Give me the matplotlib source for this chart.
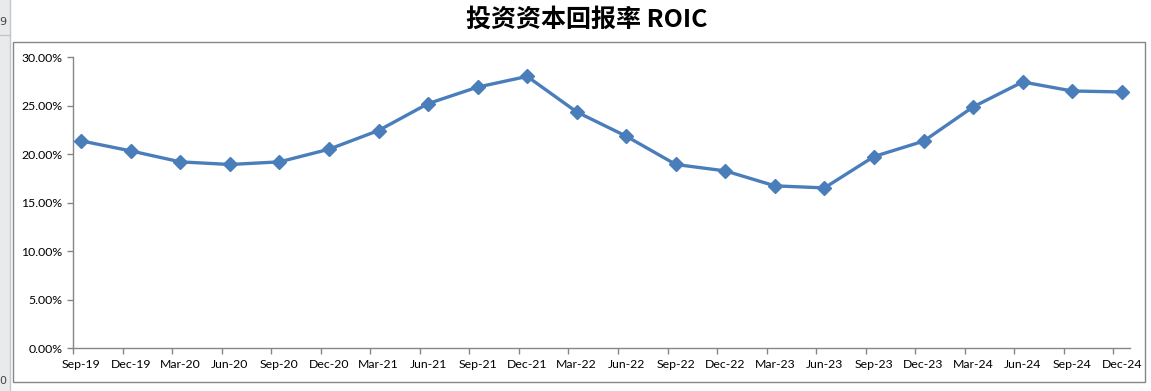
import matplotlib
matplotlib.use("Agg")
import matplotlib.pyplot as plt
from matplotlib.patches import Rectangle
from matplotlib.lines import Line2D
from matplotlib.ticker import FuncFormatter, FixedLocator

plt.rcParams['font.family'] = ['Lato', 'Noto Sans CJK SC', 'DejaVu Sans']

title = "投资资本回报率 ROIC"
quarters = ["Sep-19", "Dec-19", "Mar-20", "Jun-20", "Sep-20", "Dec-20",
            "Mar-21", "Jun-21", "Sep-21", "Dec-21", "Mar-22", "Jun-22",
            "Sep-22", "Dec-22", "Mar-23", "Jun-23", "Sep-23", "Dec-23",
            "Mar-24", "Jun-24", "Sep-24", "Dec-24"]
roic = [0.2136, 0.2033, 0.1920, 0.1893, 0.1920, 0.2050,
        0.2243, 0.2520, 0.2690, 0.2800, 0.2434, 0.2184,
        0.1893, 0.1827, 0.1673, 0.1652, 0.1975, 0.2133,
        0.2486, 0.2743, 0.2650, 0.2640]
yticks = [0.0, 0.05, 0.10, 0.15, 0.20, 0.25, 0.30]

W, H = 1151, 391
fig = plt.figure(figsize=(W / 100, H / 100), dpi=100)
fig.patch.set_facecolor("white")

# Excel row-header strip on the far left
fig.patches.append(Rectangle((0, 0), 10 / W, 1, transform=fig.transFigure,
                             facecolor="#E9EAEC", edgecolor="none", zorder=0))
fig.lines.append(Line2D([10 / W, 10 / W], [0, 1], transform=fig.transFigure,
                        color="#C6C6C6", lw=1))
fig.lines.append(Line2D([0, 10 / W], [1 - 35 / H, 1 - 35 / H], transform=fig.transFigure,
                        color="#C6C6C6", lw=1))
fig.text(-1 / W, 1 - 22 / H, "9", fontsize=8, color="#444444", ha="left", va="center",
         family=["DejaVu Sans"])
fig.text(-1 / W, 1 - 381 / H, "0", fontsize=8, color="#444444", ha="left", va="center",
         family=["DejaVu Sans"])

# chart area border
fig.patches.append(Rectangle((13 / W, 1 - 382 / H), (1145 - 13) / W, (382 - 42) / H,
                             transform=fig.transFigure, facecolor="none",
                             edgecolor="#868686", lw=1, zorder=1))

ax = fig.add_axes([73 / W, 1 - 348.3 / H, (1130 - 73) / W, (348.3 - 57) / H])
ax.set_facecolor("none")

# date axis: monthly base unit, quarterly major unit
xpos = [3 * i for i in range(len(quarters))]
ax.plot(xpos, roic, color="#4A7EBB", lw=2.4, marker="D", markersize=7,
        markerfacecolor="#4A7EBB", markeredgecolor="#4A7EBB", zorder=3,
        solid_joinstyle="round")

ax.set_xlim(-0.5, 3 * (len(quarters) - 1) + 0.5)
ax.set_ylim(0, 0.30)

ax.xaxis.set_major_locator(FixedLocator([x - 0.5 for x in xpos]))
ax.xaxis.set_major_formatter(FuncFormatter(lambda v, p: ""))
ax.set_xticks(xpos, minor=True)
ax.set_xticklabels(quarters, minor=True)
ax.tick_params(axis="x", which="minor", length=0, pad=8, labelsize=8.8, colors="#000000")
ax.tick_params(axis="x", which="major", length=4.5, width=1, color="#868686", direction="out")

ax.set_yticks(yticks)
ax.yaxis.set_major_formatter(FuncFormatter(lambda v, p: f"{v * 100:.2f}%"))
ax.tick_params(axis="y", length=4.5, width=1, color="#868686", direction="out",
               labelsize=8.8, pad=3)

for s in ["top", "right"]:
    ax.spines[s].set_visible(False)
for s in ["left", "bottom"]:
    ax.spines[s].set_color("#868686")
    ax.spines[s].set_linewidth(1)

fig.text(587 / W, 1 - 20 / H, title, ha="center", va="center", fontsize=18,
         fontweight="bold", family=["Noto Sans CJK SC", "DejaVu Sans"], color="#000000")

fig.savefig("out.png", dpi=100)
